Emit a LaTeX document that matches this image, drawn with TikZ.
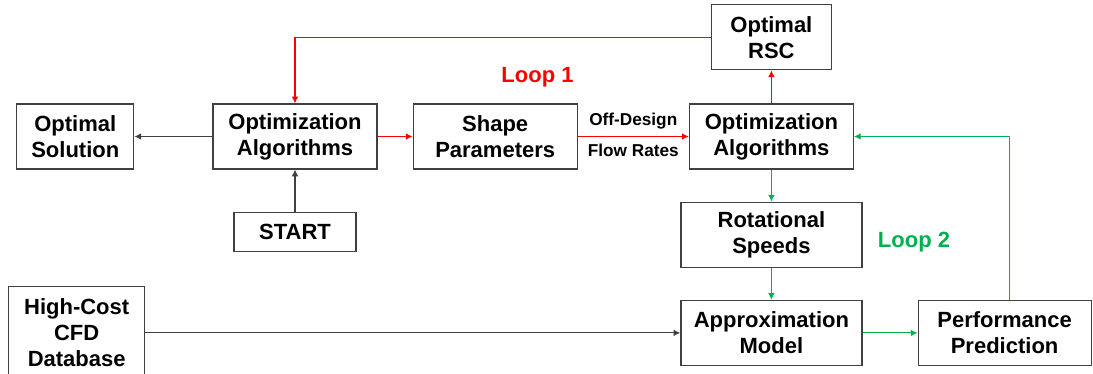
\documentclass[tikz,border=0pt]{standalone}
\usepackage{fontspec}
\setmainfont{Liberation Sans}
\usepackage{tikz}
\usetikzlibrary{positioning}
\usetikzlibrary{arrows.meta}

\definecolor{loopred}{RGB}{255,0,0}
\definecolor{loopgreen}{RGB}{0,176,80}
\definecolor{boxgray}{RGB}{64,64,64}

\tikzset{
  block/.style={draw=boxgray, line width=0.9pt, inner sep=0pt, align=center,
    minimum height=48.75pt, font=\fontsize{16.5}{19.5}\selectfont\bfseries},
  flow/.style={-{Latex[length=5pt,width=5pt]}, line width=0.85pt},
  redflow/.style={flow, color=loopred},
  greenflow/.style={flow, color=loopgreen},
  blackflow/.style={flow, color=boxgray},
}

\begin{document}
\begin{tikzpicture}[x=0.75pt, y=-0.75pt]
    \useasboundingbox (0,0) rectangle (1093,374);
    % nodes %
    \node[block, minimum width=123pt] (algL) at (295,136.5) {Optimization\\Algorithms};
    \node[block, minimum width=87.75pt, left=58.5pt of algL] (optsol) {Optimal\\Solution};
    \node[block, minimum width=91.5pt, minimum height=29.25pt, below=31.5pt of algL] (start) {START};
    \node[block, minimum width=123pt, right=26.25pt of algL] (shape) {Shape\\Parameters};
    \node[block, minimum width=123pt, right=83.25pt of shape] (algR) {Optimization\\Algorithms};
    \node[block, minimum width=90pt, above=24.75pt of algR] (rsc) {Optimal\\RSC};
    \node[block, minimum width=135.75pt, below=24pt of algR] (speeds) {Rotational\\Speeds};
    \node[block, minimum width=135.75pt, below=24pt of speeds] (approx) {Approximation\\Model};
    \node[block, minimum width=129.75pt, right=41.25pt of approx] (perf) {Performance\\Prediction};
    \node[block, minimum width=102pt, minimum height=70pt, left=401.25pt of approx] (cfd) {High-Cost\\CFD\\Database};
    % loop labels %
    \node[text=loopred, font=\fontsize{16.5}{19.5}\selectfont\bfseries] (loopone) at (537.5,77) {Loop 1};
    \node[text=loopgreen, font=\fontsize{16.5}{19.5}\selectfont\bfseries] (looptwo) at (914,242.5) {Loop 2};
    % edges %
    \draw[blackflow] (algL) -- (optsol);
    \draw[blackflow] (start) -- (algL);
    \draw[blackflow] (cfd) -- (approx);
    \draw[redflow] (algL) -- (shape);
    \draw[redflow] (shape) -- (algR)
      node[midway, above=2pt, text=black, font=\fontsize{12.9}{14}\selectfont\bfseries] {Off-Design}
      node[midway, below=2pt, text=black, font=\fontsize{12.9}{14}\selectfont\bfseries] {Flow Rates};
    \draw[redflow] (algR) -- (rsc);
    \draw[redflow] (rsc.west) -| (algL.north);
    \draw[greenflow] (algR) -- (speeds);
    \draw[greenflow] (speeds) -- (approx);
    \draw[greenflow] (approx) -- (perf);
    \draw[greenflow] ([xshift=3.4pt]perf.north) |- (algR.east);
\end{tikzpicture}
\end{document}
